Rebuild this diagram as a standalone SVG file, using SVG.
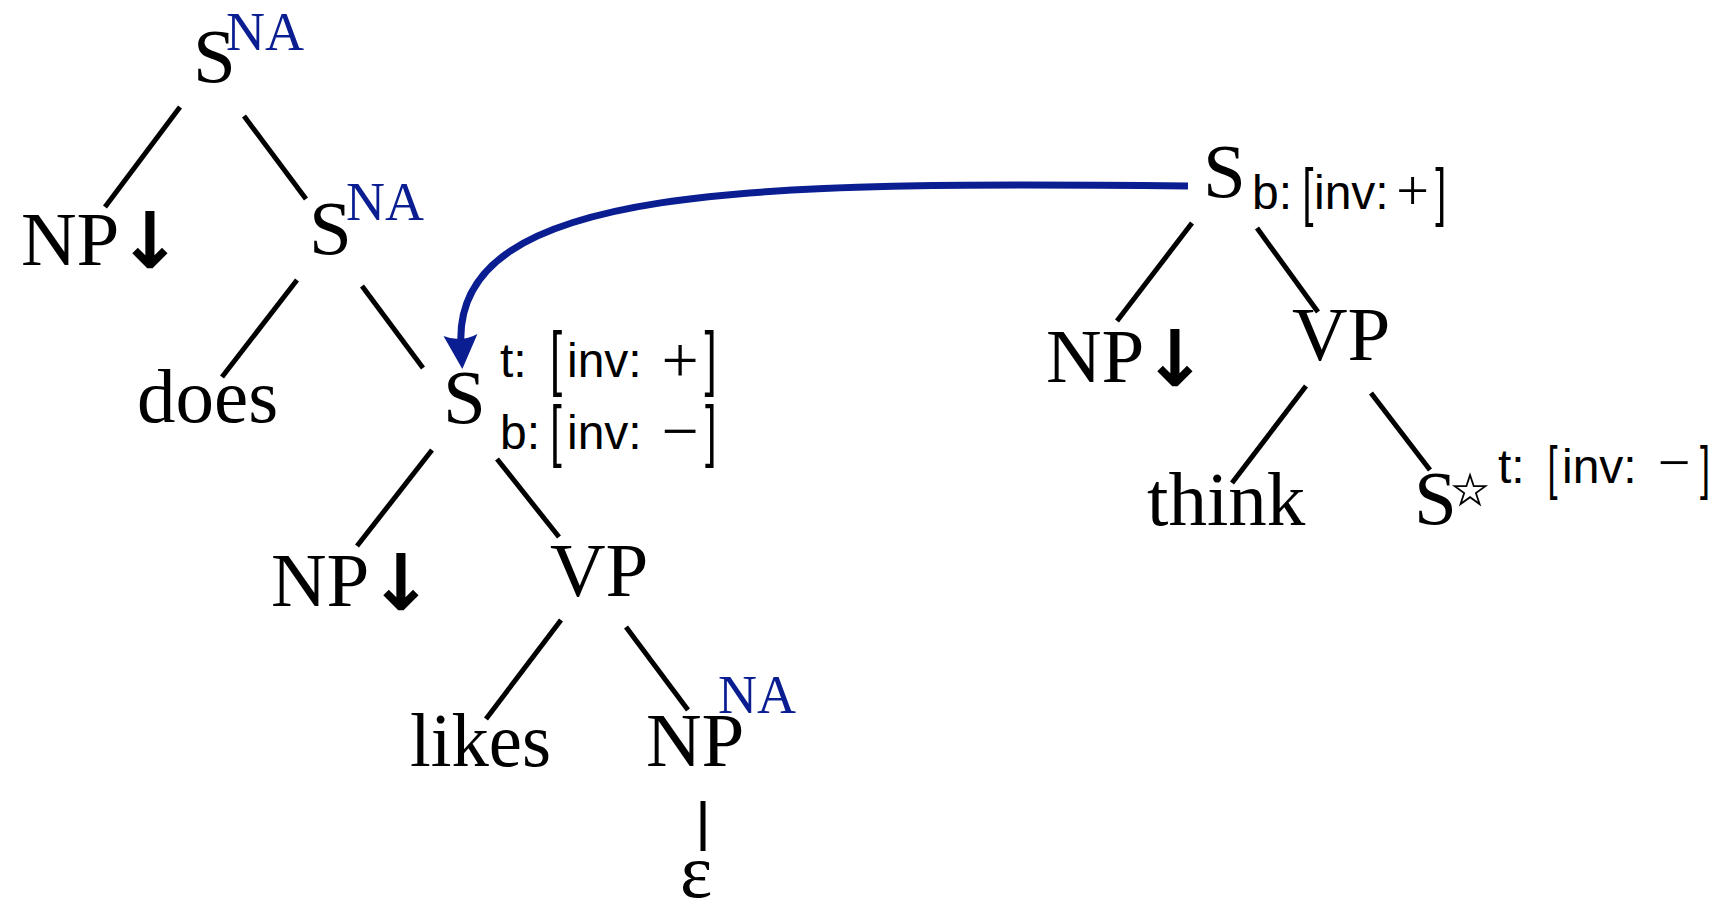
<svg xmlns="http://www.w3.org/2000/svg" width="1712" height="906" viewBox="0 0 1712 906">
<style>
.serif{font-family:"Liberation Serif","Times New Roman",serif;font-size:77px;fill:#000}
.na{font-family:"Liberation Serif","Times New Roman",serif;font-size:54px;fill:#0a1e92}
.sans{font-family:"Liberation Sans",Arial,sans-serif;font-size:48px;fill:#000}
.br{font-family:"Liberation Sans",Arial,sans-serif;fill:#000}
.op{font-family:"Liberation Serif","Times New Roman",serif;fill:#000;text-anchor:middle}
.arr{font-family:"DejaVu Sans",sans-serif;font-weight:bold;font-size:78px;fill:#000;text-anchor:middle}
.star{font-family:"DejaVu Sans",sans-serif;font-size:80px;fill:none;stroke:#000;stroke-width:1.8;text-anchor:middle}
.edge{stroke:#000;stroke-width:5;fill:none;stroke-linecap:butt}
.adj{stroke:#0a1e92;stroke-width:7;fill:none}
</style>
<defs>
<marker id="stealth" markerUnits="userSpaceOnUse" markerWidth="60" markerHeight="60" refX="0" refY="0" orient="auto" overflow="visible">
<path d="M24,0 L-10,-17 Q-2,0 -10,17 Z" fill="#0a1e92"/>
</marker>
</defs>
<g id="connectors">
<line class="edge" x1="180" y1="107" x2="105" y2="207"/>
<line class="edge" x1="244" y1="116" x2="306" y2="199"/>
<line class="edge" x1="297" y1="280" x2="222" y2="377"/>
<line class="edge" x1="362" y1="286" x2="423" y2="368"/>
<line class="edge" x1="432" y1="450" x2="357" y2="546"/>
<line class="edge" x1="497" y1="459" x2="559" y2="537"/>
<line class="edge" x1="561" y1="620" x2="486" y2="719"/>
<line class="edge" x1="626" y1="627" x2="688" y2="710"/>
<line class="edge" x1="703" y1="801" x2="703" y2="851"/>
<line class="edge" x1="1192" y1="223" x2="1117" y2="321"/>
<line class="edge" x1="1257" y1="228" x2="1318" y2="312"/>
<line class="edge" x1="1306" y1="386" x2="1232" y2="483"/>
<line class="edge" x1="1371" y1="393" x2="1430" y2="470"/>
<path class="adj" d="M1188,186 C760,182 452,182 461,345" marker-end="url(#stealth)"/>
</g>
<g id="n-s-top">
<text class="serif" x="193" y="82">S</text>
<text class="na" x="226" y="50">NA</text>
</g>
<g id="n-np-1">
<text class="serif" x="21" y="265">NP</text>
<text class="arr" x="150" y="268">↓</text>
</g>
<g id="n-s-na2">
<text class="serif" x="309" y="254">S</text>
<text class="na" x="346" y="220">NA</text>
</g>
<g id="n-does">
<text class="serif" x="137" y="422">does</text>
</g>
<g id="n-s-mid">
<text class="serif" x="443" y="423">S</text>
<text class="sans" x="500" y="377">t:</text>
<text class="br" transform="translate(550,382) scale(0.6,1)" style="font-size:73px">[</text>
<text class="sans" x="567" y="377">inv:</text>
<text class="op" x="680" y="382" style="font-size:66px">+</text>
<text class="br" transform="translate(704.4,382) scale(0.6,1)" style="font-size:73px">]</text>
<text class="sans" x="500" y="449">b:</text>
<text class="br" transform="translate(550.3,454) scale(0.6,1)" style="font-size:69px">[</text>
<text class="sans" x="567" y="449">inv:</text>
<text class="op" x="680" y="453" style="font-size:66px">−</text>
<text class="br" transform="translate(705,454) scale(0.6,1)" style="font-size:69px">]</text>
</g>
<g id="n-np-2">
<text class="serif" x="271" y="606">NP</text>
<text class="arr" x="401" y="610">↓</text>
</g>
<g id="n-vp-1">
<text class="serif" x="550" y="596">VP</text>
</g>
<g id="n-likes">
<text class="serif" x="410" y="766" textLength="141" lengthAdjust="spacingAndGlyphs">likes</text>
</g>
<g id="n-np-na">
<text class="serif" x="646" y="766">NP</text>
<text class="na" x="718" y="713">NA</text>
</g>
<g id="n-eps">
<text class="serif" x="680" y="897">ε</text>
</g>
<g id="n-s-right">
<text class="serif" x="1203" y="197">S</text>
<text class="sans" x="1252" y="209">b:</text>
<text class="br" transform="translate(1302.4,214) scale(0.6,1)" style="font-size:65.6px">[</text>
<text class="sans" x="1314" y="209">inv:</text>
<text class="op" x="1412.5" y="210" style="font-size:58px">+</text>
<text class="br" transform="translate(1435.3,214) scale(0.6,1)" style="font-size:65.6px">]</text>
</g>
<g id="n-np-3">
<text class="serif" x="1046" y="382">NP</text>
<text class="arr" x="1175" y="386">↓</text>
</g>
<g id="n-vp-2">
<text class="serif" x="1292" y="360">VP</text>
</g>
<g id="n-think">
<text class="serif" x="1147" y="525">think</text>
</g>
<g id="n-sstar">
<text class="serif" x="1414" y="524">S</text>
<text class="star" x="1470" y="516">⋆</text>
<text class="sans" x="1498" y="483">t:</text>
<text class="br" transform="translate(1547.6,488) scale(0.6,1)" style="font-size:60px">[</text>
<text class="sans" x="1562" y="483">inv:</text>
<text class="op" x="1674" y="482" style="font-size:58px">−</text>
<text class="br" transform="translate(1700,488) scale(0.6,1)" style="font-size:60px">]</text>
</g>
</svg>
